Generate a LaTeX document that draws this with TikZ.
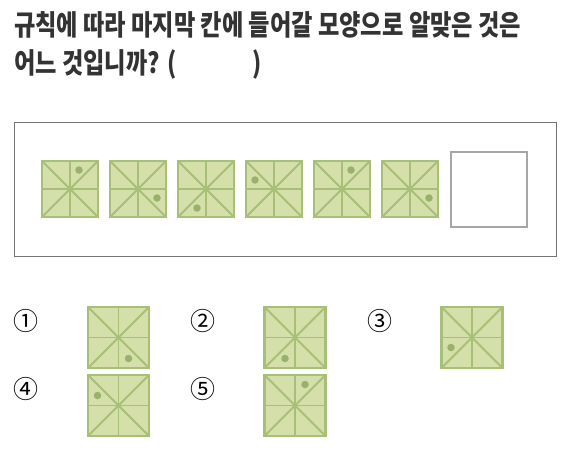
\documentclass[tikz,border=0pt]{standalone}
\usepackage{fontspec}
\newfontfamily\kr[FakeStretch=0.82]{Noto Sans CJK KR}
\newfontfamily\krnum{Noto Sans CJK KR}
\definecolor{tilefill}{HTML}{D4DFAA}
\definecolor{tileline}{HTML}{A8BF78}
\definecolor{tiledot}{HTML}{9AB16C}
\definecolor{titlecol}{HTML}{333333}
\newcommand\mytile[6]{%
  \node[tilebox, minimum size=#4pt] (#1) at (#2,#3) {};
  \draw[tileinner] (#1.north west) -- (#1.south east);
  \draw[tileinner] (#1.north east) -- (#1.south west);
  \draw[tileinner] (#1.north) -- (#1.south);
  \draw[tileinner] (#1.west) -- (#1.east);
  \draw[tileline, line width=2.6pt] (#1.north west) rectangle (#1.south east);
  \node[tiledotstyle] (#1d) at ($(#1.center)+(#5,#6)$) {};
}
\usetikzlibrary{calc}
\begin{document}
\begin{tikzpicture}[x=1pt,y=-1pt,
  tilebox/.style={rectangle, fill=tilefill, draw=none, inner sep=0pt, outer sep=0pt},
  tileinner/.style={draw=tileline, line width=1.8pt},
  tiledotstyle/.style={circle, fill=tiledot, draw=none, minimum size=7.5pt, inner sep=0pt},
  titletext/.style={anchor=west, inner sep=0pt, text=titlecol, font=\kr\bfseries\fontsize{28.3}{32}\selectfont},
  numlabel/.style={inner sep=0pt, text=black, font=\krnum\fontsize{25}{28}\selectfont}]
\useasboundingbox (0,0) rectangle (577,469);
\node[titletext] (t1) at (14,25) {규칙에 따라 마지막 칸에 들어갈 모양으로 알맞은 것은};
\node[titletext] (t2) at (14,64) {어느 것입니까? (\hspace*{76pt})};
\node[draw=black!55, line width=0.8pt, minimum width=542pt, minimum height=134pt, inner sep=0pt] (frame) at (285,189) {};
\mytile{s1}{70}{189}{56}{9}{-19}
\mytile{s2}{138}{189}{56}{19}{9}
\mytile{s3}{206}{189}{56}{-9}{19}
\mytile{s4}{274}{189}{56}{-19}{-9}
\mytile{s5}{342}{189}{56}{9}{-19}
\mytile{s6}{410}{189}{56}{19}{9}
\node[draw=black!35, line width=2pt, minimum width=76pt, minimum height=75pt, inner sep=0pt] (blank) at (489,189.5) {};
\mytile{o1}{118.5}{337.5}{61}{10}{21}
\mytile{o2}{295}{337.5}{61}{-10}{21}
\mytile{o3}{472}{337.5}{61}{-21}{10}
\mytile{o4}{118.5}{405.5}{61}{-21}{-10}
\mytile{o5}{295}{405.5}{61}{10}{-21}
\node[numlabel] (n1) at (26,321) {①};
\node[numlabel] (n2) at (203,321) {②};
\node[numlabel] (n3) at (380,321) {③};
\node[numlabel] (n4) at (26,389) {④};
\node[numlabel] (n5) at (203,389) {⑤};
\end{tikzpicture}
\end{document}
